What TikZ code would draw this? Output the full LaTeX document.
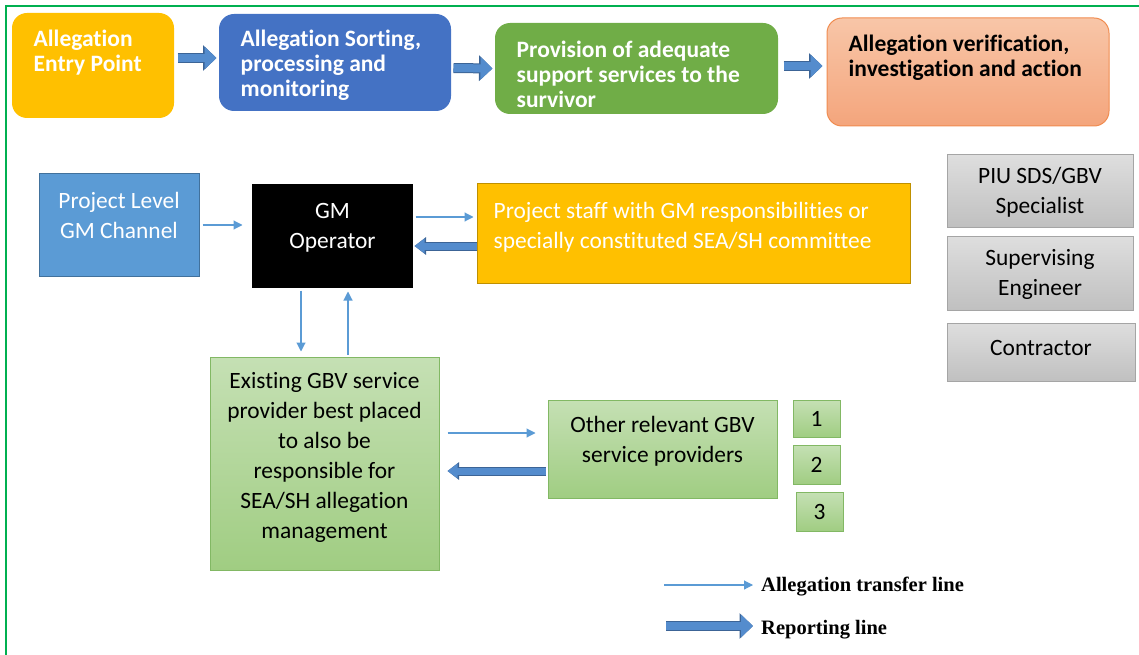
\documentclass[tikz,border=0pt]{standalone}
\usepackage{fontspec}
\setmainfont{Carlito}[Ligatures=NoCommon]
\newfontfamily\legendfont{Liberation Serif}
\usetikzlibrary{arrows.meta}
\definecolor{frame}{RGB}{0,176,80}
\definecolor{entryfill}{RGB}{255,192,0}
\definecolor{sortfill}{RGB}{68,114,196}
\definecolor{supportfill}{RGB}{112,173,71}
\definecolor{veriftop}{RGB}{248,198,168}
\definecolor{verifbot}{RGB}{244,165,124}
\definecolor{verifedge}{RGB}{240,140,80}
\definecolor{channelfill}{RGB}{91,155,213}
\definecolor{channeledge}{RGB}{65,113,156}
\definecolor{staffedge}{RGB}{191,144,0}
\definecolor{graytop}{RGB}{222,222,222}
\definecolor{graybot}{RGB}{192,192,192}
\definecolor{grayedge}{RGB}{165,165,165}
\definecolor{greentop}{RGB}{197,224,180}
\definecolor{greenbot}{RGB}{160,205,130}
\definecolor{greenedge}{RGB}{130,184,100}
\definecolor{linkblue}{RGB}{91,155,213}
\definecolor{repblue}{RGB}{84,140,205}
\definecolor{repedge}{RGB}{60,100,150}

\begin{document}
\begin{tikzpicture}[x=1pt, y=-1pt,
  box/.style={rectangle, inner sep=0pt, line width=1pt},
  stage/.style={box, rounded corners=15pt},
  head/.style={font=\bfseries\fontsize{23.5}{25}\selectfont, align=left, anchor=west, inner sep=0pt, text=white},
  body/.style={font=\fontsize{23.4}{30}\selectfont, align=center, inner sep=0pt},
  graybox/.style={box, draw=grayedge, top color=graytop, bottom color=graybot, minimum width=186pt},
  greenbox/.style={box, draw=greenedge, top color=greentop, bottom color=greenbot},
  transfer/.style={draw=linkblue, line width=1.1pt, -{Triangle[length=9pt,width=9pt]}},
  report/.style={draw=repblue, line width=7pt, -{Triangle[length=10pt,width=14pt]},
    preaction={draw=repedge, line width=9pt, -{Triangle[length=11.5pt,width=17pt]}}},
  flow/.style={draw=repblue, line width=8pt, -{Triangle[length=12pt,width=22pt]},
    preaction={draw=repedge, line width=10pt, -{Triangle[length=13.5pt,width=25pt]}}},
  key/.style={font=\legendfont\bfseries\fontsize{20.5}{22}\selectfont, anchor=west, inner sep=0pt}]
  \useasboundingbox (0,0) rectangle (1139,655);
  % Frame
  \draw[frame, line width=2pt] (6,655) -- (6,6) -- (1139,6);
  % Stages along the top
  \node[stage, fill=entryfill, minimum width=162pt, minimum height=105pt] (entry) at (93,65.5) {};
  \node[stage, fill=sortfill, minimum width=232pt, minimum height=97pt] (sorting) at (335,62.5) {};
  \node[stage, fill=supportfill, minimum width=283pt, minimum height=91pt] (support) at (636.5,68.5) {};
  \node[stage, draw=verifedge, top color=veriftop, bottom color=verifbot, minimum width=282pt, minimum height=108pt] (verif) at (968,72) {};
  \node[head] (entrytext) at ([xshift=22pt,yshift=13pt]entry.west) {Allegation\\Entry Point};
  \node[head] (sortingtext) at ([xshift=22pt,yshift=-3pt]sorting.west) {Allegation Sorting,\\processing and\\monitoring};
  \node[head] (supporttext) at ([xshift=22pt,yshift=-6pt]support.west) {Provision of adequate\\support services to the\\survivor};
  \node[head, text=black] (veriftext) at ([xshift=22pt,yshift=14pt]verif.west) {Allegation verification,\\investigation and action};
  \draw[flow, shorten <=3pt, shorten >=2pt] ([yshift=7.5pt]entry.east) -- ([yshift=4.5pt]sorting.west);
  \draw[flow, shorten <=2pt, shorten >=2pt] ([yshift=-5.5pt]sorting.east) -- ([yshift=0pt]support.west);
  \draw[flow, shorten <=5pt, shorten >=4pt] ([yshift=2.5pt]support.east) -- ([yshift=6pt]verif.west);
  % Reporting bodies
  \node[box, draw=channeledge, fill=channelfill, minimum width=160pt, minimum height=102pt] (channel) at (119,225) {};
  \node[body, text=white] at ([yshift=10pt]channel.center) {Project Level\\GM Channel};
  \node[box, fill=black, minimum width=161pt, minimum height=104pt] (gm) at (332.5,236) {};
  \node[body, text=white] at ([yshift=8pt]gm.center) {GM\\Operator};
  \node[box, draw=staffedge, fill=entryfill, minimum width=433pt, minimum height=100pt] (staff) at (693.5,233) {};
  \node[body, text=white, align=left, anchor=west] at ([xshift=17pt,yshift=5.5pt]staff.west) {Project staff with GM responsibilities or\\specially constituted SEA/SH committee};
  \node[graybox, minimum height=72pt] (piu) at (1040,191) {};
  \node[body] at ([yshift=-1pt]piu.center) {PIU SDS/GBV\\Specialist};
  \node[graybox, minimum height=74pt] (engineer) at (1040,273) {};
  \node[body] at ([yshift=-1pt]engineer.center) {Supervising\\Engineer};
  \node[graybox, minimum width=188pt, minimum height=58pt] (contractor) at (1041,352) {};
  \node[body] at ([yshift=4pt]contractor.center) {Contractor};
  % Service providers
  \node[greenbox, minimum width=229pt, minimum height=213pt] (existing) at (324.5,463.5) {};
  \node[body] at ([yshift=6pt]existing.center) {Existing GBV service\\provider best placed\\to also be\\responsible for\\SEA/SH allegation\\management};
  \node[greenbox, minimum width=229pt, minimum height=98pt] (other) at (662.5,449) {};
  \node[body] at ([yshift=8pt]other.center) {Other relevant GBV\\service providers};
  \node[greenbox, body, minimum width=47pt, minimum height=37pt] (one) at (816.5,418.5) {1};
  \node[greenbox, body, minimum width=47pt, minimum height=39pt] (two) at (816.5,464.5) {2};
  \node[greenbox, body, minimum width=47pt, minimum height=39pt] (three) at (819.5,511.5) {3};
  % Connectors
  \draw[transfer, shorten <=3pt, shorten >=9pt] (channel.east) -- (channel.east -| gm.west);
  \draw[transfer, shorten <=2pt, shorten >=3pt] ([yshift=19pt]gm.east) -- ([yshift=19pt]gm.east -| staff.west);
  \draw[report, shorten >=1pt] ([yshift=-13pt]staff.west) -- ([yshift=-13pt]staff.west -| gm.east);
  \draw[transfer, shorten <=2pt, shorten >=5pt] ([xshift=-31.5pt]gm.south) -- ([xshift=-31.5pt]gm.south |- existing.north);
  \draw[transfer, shorten <=2pt, shorten >=3pt] ([xshift=23.5pt]existing.north) -- ([xshift=23.5pt]existing.north |- gm.south);
  \draw[transfer, shorten <=8pt, shorten >=12pt] ([yshift=30.5pt]existing.east) -- ([yshift=30.5pt]existing.east -| other.west);
  \draw[report, shorten <=2pt, shorten >=8pt] ([yshift=-22pt]other.west) -- ([yshift=-22pt]other.west -| existing.east);
  % Legend
  \node[key] (transferkey) at (761,587) {Allegation transfer line};
  \node[key] (reportkey) at (761,630) {Reporting line};
  \coordinate (transferstart) at (664,585);
  \coordinate (reportstart) at (666,626);
  \draw[transfer, shorten >=8pt] (transferstart) -- (transferstart -| transferkey.west);
  \draw[flow, shorten >=8pt] (reportstart) -- (reportstart -| reportkey.west);
\end{tikzpicture}
\end{document}
